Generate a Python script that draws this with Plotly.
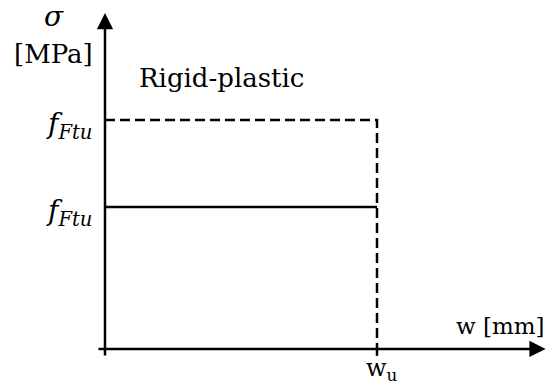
import plotly.graph_objects as go

# Rigid-plastic constitutive law (normalised units)
w_u = 1.0            # ultimate crack opening
f_upper = 1.0        # upper (dashed) stress level
f_lower = 0.62       # lower (solid) stress level

w_solid = [0.0, w_u]
s_solid = [f_lower, f_lower]
w_dash = [0.0, w_u, w_u]
s_dash = [f_upper, f_upper, 0.0]

x_range = [-0.386, 1.625]
y_range = [-0.1616, 1.524]

FONT = "DejaVu Serif"
LW = 2.5
fig = go.Figure()

fig.add_trace(go.Scatter(x=w_dash, y=s_dash, mode="lines",
                         line=dict(color="black", width=LW, dash="10px,5px"),
                         hoverinfo="skip"))
fig.add_trace(go.Scatter(x=w_solid, y=s_solid, mode="lines",
                         line=dict(color="black", width=LW),
                         hoverinfo="skip"))
# tick mark at w_u
fig.add_trace(go.Scatter(x=[w_u, w_u], y=[0.0, -0.03], mode="lines",
                         line=dict(color="black", width=LW),
                         hoverinfo="skip"))

# axes with arrow heads
fig.add_annotation(x=0, y=1.467, ax=0, ay=-0.035, xref="x", yref="y",
                   axref="x", ayref="y", showarrow=True, arrowhead=2,
                   arrowsize=1.3, arrowwidth=LW, arrowcolor="black", text="")
fig.add_annotation(x=1.62, y=0, ax=-0.0294, ay=0, xref="x", yref="y",
                   axref="x", ayref="y", showarrow=True, arrowhead=2,
                   arrowsize=1.3, arrowwidth=LW, arrowcolor="black", text="")

def label(x, y, text, size=28, xanchor="center", yanchor="middle"):
    fig.add_annotation(x=x, y=y, xref="x", yref="y", text=text,
                       showarrow=False, xanchor=xanchor, yanchor=yanchor,
                       font=dict(family=FONT, size=size, color="black"))

label(-0.188, 1.45, "<i>σ</i>", size=28)
label(-0.191, 1.29, "[MPa]", size=26)
label(0.428, 1.185, "Rigid-plastic", size=26)
label(-0.04, f_upper - 0.025, "<i>f</i><sub><i>Ftu</i></sub>", size=28, xanchor="right")
label(-0.04, f_lower - 0.025, "<i>f</i><sub><i>Ftu</i></sub>", size=28, xanchor="right")
label(1.455, 0.1, "w [mm]", size=23)
label(w_u + 0.018, -0.09, "w<sub>u</sub>", size=24)

fig.update_layout(
    width=547, height=386,
    margin=dict(l=0, r=0, t=0, b=0),
    paper_bgcolor="white", plot_bgcolor="white",
    showlegend=False,
    xaxis=dict(range=x_range, visible=False, fixedrange=True),
    yaxis=dict(range=y_range, visible=False, fixedrange=True),
)

fig.write_html("out.html")
